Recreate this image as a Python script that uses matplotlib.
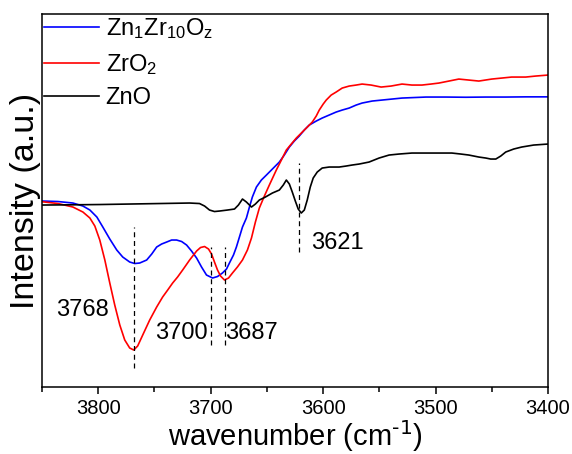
import numpy as np
import matplotlib
matplotlib.use("Agg")
import matplotlib.pyplot as plt
from matplotlib.ticker import MultipleLocator

plt.rcParams['font.family'] = ['Liberation Sans', 'DejaVu Sans']
plt.rcParams['mathtext.default'] = 'regular'

# ZrO2 (red)
wn_zro2 = [3850, 3835.8, 3822.5, 3813.6, 3807.4, 3803.0, 3798.6, 3794.1, 3789.7, 3785.3,
           3780.8, 3776.4, 3772.0, 3768.4, 3764.9, 3760.4, 3754.2, 3748.0, 3742.7, 3738.2,
           3733.8, 3729.4, 3724.9, 3718.7, 3712.5, 3709.0, 3705.4, 3701.9, 3699.2, 3696.6,
           3693.9, 3691.2, 3687.7, 3684.1, 3680.6, 3676.2, 3671.7, 3667.3, 3663.7, 3660.2,
           3656.7, 3652.2, 3647.8, 3641.6, 3637.1, 3632.7, 3628.3, 3623.8, 3616.7, 3609.6,
           3606.1, 3603.4, 3599.9, 3597.2, 3592.8, 3588.4, 3583.0, 3576.8, 3570.6, 3565.3,
           3557.3, 3548.4, 3539.6, 3529.8, 3521.0, 3512.1, 3504.1, 3497.0, 3488.1, 3479.3,
           3470.4, 3461.5, 3450.0, 3441.1, 3432.3, 3419.8, 3411.0, 3400]
i_zro2 = [18.53, 18.35, 18.0, 17.5, 16.9, 16.1, 14.7, 12.7, 10.4, 8.2,
          6.2, 4.7, 3.9, 3.7, 4.1, 5.2, 6.7, 8.0, 9.0, 9.7,
          10.4, 11.0, 11.7, 12.7, 13.6, 13.95, 14.05, 13.8, 13.3, 12.5,
          11.7, 11.1, 10.7, 10.9, 11.4, 12.0, 12.7, 13.7, 14.9, 16.5,
          17.9, 19.1, 20.2, 21.7, 22.7, 23.7, 24.3, 24.9, 25.7, 26.5,
          27.1, 27.7, 28.3, 28.7, 29.2, 29.5, 29.9, 30.1, 30.2, 30.3,
          30.2, 30.0, 30.1, 30.3, 30.2, 30.2, 30.3, 30.4, 30.6, 30.8,
          30.7, 30.6, 30.8, 30.9, 31.0, 31.0, 31.1, 31.2]

# Zn1Zr10Oz (blue)
wn_znzr = [3850, 3835.8, 3822.5, 3813.6, 3807.4, 3801.2, 3795.9, 3789.7, 3783.5, 3778.2,
           3772.0, 3767.5, 3763.1, 3756.9, 3752.4, 3748.0, 3743.6, 3739.1, 3734.7, 3730.3,
           3725.8, 3721.4, 3717.0, 3712.5, 3708.1, 3703.7, 3698.3, 3693.9, 3689.5, 3685.9,
           3683.3, 3679.7, 3677.1, 3674.4, 3671.7, 3668.2, 3665.5, 3662.9, 3659.3, 3654.9,
           3650.4, 3645.1, 3638.9, 3634.5, 3630.0, 3625.6, 3621.2, 3616.7, 3612.3, 3606.1,
           3600.8, 3594.6, 3588.4, 3583.0, 3576.8, 3570.6, 3565.3, 3556.4, 3547.6, 3538.7,
           3529.8, 3519.2, 3508.5, 3490.8, 3473.1, 3455.3, 3437.6, 3419.8, 3400]
i_znzr = [18.6, 18.55, 18.4, 18.1, 17.7, 17.0, 16.0, 14.8, 13.7, 13.0,
          12.5, 12.35, 12.4, 12.7, 13.3, 14.0, 14.3, 14.5, 14.7, 14.7,
          14.55, 14.2, 13.6, 12.9, 12.0, 11.2, 10.9, 11.05, 11.4, 11.8,
          12.4, 13.2, 14.0, 15.0, 16.0, 16.9, 18.0, 19.0, 20.0, 20.7,
          21.2, 21.8, 22.5, 23.2, 24.0, 24.6, 25.1, 25.7, 26.2, 26.6,
          26.9, 27.2, 27.5, 27.7, 27.9, 28.2, 28.4, 28.6, 28.7, 28.8,
          28.9, 28.95, 29.0, 29.0, 28.98, 29.0, 29.0, 29.02, 29.02]

# ZnO (black)
wn_zno = [3850, 3825.2, 3798.6, 3772.0, 3745.3, 3718.7, 3709.9, 3705.4, 3701.0, 3696.6,
          3692.1, 3685.0, 3678.8, 3675.3, 3671.7, 3668.2, 3663.7, 3660.2, 3656.7, 3651.3,
          3645.1, 3638.9, 3635.4, 3632.7, 3630.0, 3627.4, 3624.7, 3622.1, 3619.4, 3616.7,
          3614.1, 3611.4, 3608.8, 3605.2, 3600.8, 3594.6, 3585.7, 3579.5, 3574.2, 3567.9,
          3559.1, 3550.2, 3541.3, 3532.5, 3521.0, 3505.9, 3485.5, 3477.5, 3470.4, 3461.5,
          3455.3, 3450.9, 3446.4, 3442.0, 3437.6, 3430.5, 3423.4, 3412.7, 3400]
i_zno = [18.2, 18.22, 18.25, 18.3, 18.35, 18.4, 18.35, 18.1, 17.7, 17.55,
         17.6, 17.7, 17.8, 18.2, 18.8, 18.5, 18.0, 18.3, 18.7, 19.0,
         19.4, 19.7, 20.2, 20.7, 20.3, 19.5, 18.6, 17.8, 17.4, 17.7,
         18.7, 20.0, 20.9, 21.5, 21.9, 22.0, 22.0, 22.1, 22.2, 22.3,
         22.5, 22.9, 23.2, 23.3, 23.4, 23.4, 23.4, 23.3, 23.2, 23.0,
         22.9, 22.8, 22.8, 23.1, 23.5, 23.8, 24.0, 24.2, 24.3]

# peak markers: position, dashed line range, label position
peaks = [3768, 3700, 3687, 3621]
peak_lo = [1.9, 4.2, 4.2, 13.5]
peak_hi = [16.0, 14.0, 14.0, 22.4]
label_x = [3813.6, 3725.8, 3663.7, 3587.5]
label_y = [7.7, 5.4, 5.4, 14.4]

fig, ax = plt.subplots(figsize=(5.72, 4.54), dpi=100)
plt.subplots_adjust(left=0.0734, right=0.958, bottom=0.1476, top=0.969)

ax.plot(wn_znzr, i_znzr, color='#0000ff', lw=1.2, solid_joinstyle='round', label='Zn$_1$Zr$_{10}$O$_z$')
ax.plot(wn_zro2, i_zro2, color='#ff0000', lw=1.2, solid_joinstyle='round', label='ZrO$_2$')
ax.plot(wn_zno, i_zno, color='black', lw=1.2, solid_joinstyle='round', label='ZnO')

for p, lo, hi, lx, ly in zip(peaks, peak_lo, peak_hi, label_x, label_y):
    ax.plot([p, p], [lo, hi], color='black', lw=0.9, ls=(0, (4, 3)))
    ax.text(lx, ly, str(p), fontsize=17, ha='center', va='center')

ax.set_xlim(3850, 3400)
ax.set_ylim(0, 37.3)
ax.set_yticks([])
ax.xaxis.set_major_locator(MultipleLocator(100))
ax.xaxis.set_minor_locator(MultipleLocator(50))
ax.tick_params(axis='x', which='major', direction='out', length=5, width=1.1, labelsize=14.5)
ax.tick_params(axis='x', which='minor', direction='out', length=3.5, width=1.1)
for s in ax.spines.values():
    s.set_linewidth(1.1)

ax.set_xlabel('wavenumber (cm$^{\\text{-1}}$)', fontsize=21, labelpad=0)
ax.set_ylabel('Intensity (a.u.)', fontsize=24.5, labelpad=1)

ax.legend(loc='upper left', bbox_to_anchor=(0, 1), frameon=False, fontsize=17,
          borderpad=0.1, borderaxespad=0, handlelength=2.3, handletextpad=0.3,
          labelspacing=0.45)

plt.savefig('out.png', dpi=100)
